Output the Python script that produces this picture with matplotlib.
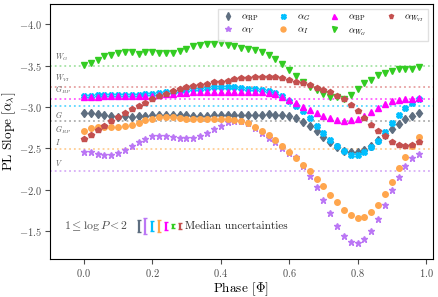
import numpy as np
import matplotlib
matplotlib.use("Agg")
import matplotlib.pyplot as plt

plt.rcParams['font.family'] = 'serif'
plt.rcParams['font.serif'] = ['cmr10', 'DejaVu Serif']
plt.rcParams['mathtext.fontset'] = 'cm'
plt.rcParams['axes.formatter.use_mathtext'] = True

# phase grid
phase = np.round(np.arange(50) * 0.02, 2)

a_rp = [-2.92, -2.92, -2.91, -2.90, -2.885, -2.875, -2.885, -2.88, -2.885, -2.89,
        -2.90, -2.905, -2.905, -2.905, -2.905, -2.90, -2.895, -2.89, -2.89, -2.90,
        -2.90, -2.90, -2.90, -2.90, -2.905, -2.905, -2.905, -2.91, -2.905, -2.90,
        -2.885, -2.86, -2.82, -2.77, -2.71, -2.64, -2.57, -2.51, -2.47, -2.46,
        -2.46, -2.48, -2.53, -2.60, -2.66, -2.73, -2.79, -2.85, -2.89, -2.92]
a_v = [-2.454, -2.45, -2.43, -2.42, -2.42, -2.44, -2.473, -2.522, -2.57, -2.615,
       -2.643, -2.651, -2.651, -2.635, -2.623, -2.623, -2.623, -2.643, -2.683, -2.732,
       -2.772, -2.812, -2.831, -2.83, -2.80, -2.75, -2.69, -2.62, -2.57, -2.50,
       -2.44, -2.39, -2.29, -2.17, -2.03, -1.87, -1.72, -1.56, -1.44, -1.37,
       -1.35, -1.40, -1.50, -1.64, -1.81, -1.99, -2.15, -2.29, -2.38, -2.43]
a_g = [-3.13, -3.135, -3.14, -3.14, -3.14, -3.14, -3.14, -3.14, -3.145, -3.15,
       -3.155, -3.165, -3.175, -3.185, -3.195, -3.205, -3.215, -3.22, -3.23, -3.235,
       -3.24, -3.24, -3.235, -3.23, -3.22, -3.21, -3.20, -3.19, -3.17, -3.13,
       -3.07, -3.01, -2.95, -2.87, -2.77, -2.68, -2.60, -2.53, -2.47, -2.42,
       -2.42, -2.46, -2.51, -2.59, -2.70, -2.80, -2.90, -2.99, -3.05, -3.09]
a_i = [-2.703, -2.743, -2.755, -2.751, -2.751, -2.751, -2.763, -2.783, -2.803, -2.843,
       -2.856, -2.872, -2.876, -2.872, -2.862, -2.856, -2.856, -2.856, -2.856, -2.856,
       -2.856, -2.856, -2.845, -2.83, -2.80, -2.76, -2.71, -2.66, -2.60, -2.53,
       -2.45, -2.38, -2.30, -2.22, -2.128, -2.047, -1.94, -1.846, -1.757, -1.697,
       -1.657, -1.669, -1.725, -1.817, -1.95, -2.097, -2.261, -2.40, -2.53, -2.635]
a_bp = [-3.12, -3.125, -3.125, -3.13, -3.13, -3.13, -3.13, -3.13, -3.13, -3.13,
        -3.135, -3.14, -3.15, -3.155, -3.165, -3.17, -3.175, -3.18, -3.185, -3.185,
        -3.185, -3.185, -3.185, -3.185, -3.185, -3.185, -3.175, -3.165, -3.155, -3.12,
        -3.085, -3.05, -3.00, -2.965, -2.925, -2.895, -2.865, -2.845, -2.835, -2.84,
        -2.855, -2.89, -2.94, -2.99, -3.03, -3.065, -3.085, -3.095, -3.10, -3.11]
a_wg = [-3.508, -3.536, -3.569, -3.609, -3.629, -3.65, -3.665, -3.669, -3.638, -3.665,
        -3.661, -3.657, -3.657, -3.657, -3.678, -3.698, -3.73, -3.746, -3.762, -3.762,
        -3.77, -3.746, -3.73, -3.71, -3.698, -3.682, -3.662, -3.625, -3.581, -3.517,
        -3.448, -3.376, -3.30, -3.245, -3.198, -3.158, -3.118, -3.114, -3.098, -3.146,
        -3.218, -3.287, -3.327, -3.388, -3.408, -3.436, -3.456, -3.46, -3.46, -3.484]
a_wvi = [-2.611, -2.663, -2.715, -2.772, -2.824, -2.872, -2.925, -2.973, -3.013, -3.046,
         -3.094, -3.126, -3.158, -3.186, -3.215, -3.235, -3.255, -3.267, -3.279, -3.295,
         -3.303, -3.315, -3.331, -3.343, -3.355, -3.36, -3.367, -3.367, -3.36, -3.343,
         -3.323, -3.303, -3.291, -3.263, -3.231, -3.207, -3.175, -3.134, -3.094, -3.017,
         -2.949, -2.865, -2.78, -2.703, -2.643, -2.578, -2.538, -2.53, -2.538, -2.57]

# mean PL slopes (horizontal reference lines)
ref_names = [r'$W_G$', r'$W_{VI}$', r'$G_{BP}$', r'$G$', r'$G_{RP}$', r'$I$', r'$V$']
ref_values = [-3.50, -3.245, -3.10, -3.005, -2.825, -2.49, -2.23]
ref_above = [True, True, True, False, False, True, True]

# median uncertainties (half-length)
med_err = [0.07, 0.10, 0.06, 0.072, 0.044, 0.028, 0.04]

c_rp, c_v, c_g, c_i = '#5e6e80', '#bb77f5', '#00bfff', '#ffa64d'
c_bp, c_wg, c_wvi = '#ff00ff', '#33cc22', '#c4504f'
ref_colors = ['#8fdc8f', '#e08a8a', '#ff33ff', '#33ccff', '#9a9a9a', '#ffc27a', '#cc99f5']

fig, ax = plt.subplots(figsize=(4.39, 2.97), dpi=100)
fig.subplots_adjust(left=0.113, right=0.986, top=0.987, bottom=0.127)

for v, col in zip(ref_values, ref_colors):
    ax.axhline(v, color=col, ls=':', lw=1.3, alpha=0.8, zorder=1)
for name, v, up in zip(ref_names, ref_values, ref_above):
    ax.text(-0.085, v - 0.03 if up else v + 0.03, name, fontsize=5.5, color='0.35',
            va='bottom' if up else 'top', ha='left')

ms = 4
ax.plot(phase, a_rp, 'd', color=c_rp, ms=ms + 0.5, label=r'$\alpha_{\rm RP}$', zorder=3)
ax.plot(phase, a_v, '*', color=c_v, ms=ms + 0.5, label=r'$\alpha_V$', zorder=3)
ax.plot(phase, a_g, 'X', color=c_g, ms=ms, label=r'$\alpha_G$', zorder=3)
ax.plot(phase, a_i, 'o', color=c_i, ms=ms, label=r'$\alpha_I$', zorder=3)
ax.plot(phase, a_bp, '^', color=c_bp, ms=ms, label=r'$\alpha_{\rm BP}$', zorder=3)
ax.plot(phase, a_wg, 'v', color=c_wg, ms=ms, label=r'$\alpha_{W_G}$', zorder=3)
ax.plot(phase, a_wvi, 'p', color=c_wvi, ms=ms, label=r'$\alpha_{W_{VI}}$', zorder=3)

# median uncertainty bars
err_x = [0.16, 0.18, 0.20, 0.22, 0.24, 0.26, 0.28]
err_cols = [c_rp, c_v, c_g, c_i, c_bp, c_wg, c_wvi]
for x, e, col in zip(err_x, med_err, err_cols):
    ax.errorbar(x, -1.56, yerr=e, color=col, lw=1.6, capsize=1.5, capthick=1)
ax.text(0.13, -1.56, r'$1 \leq \log P < 2$', fontsize=8.5, color='0.3', ha='right', va='center')
ax.text(0.295, -1.56, 'Median uncertainties', fontsize=8, color='0.15', ha='left', va='center')

ax.set_xlim(-0.1, 1.02)
ax.set_ylim(-1.158, -4.245)
ax.set_xticks([0.0, 0.2, 0.4, 0.6, 0.8, 1.0])
ax.set_yticks([-4.0, -3.5, -3.0, -2.5, -2.0, -1.5])
ax.tick_params(labelsize=7.5, colors='0.3', labelcolor='0.3', pad=2)
ax.set_xlabel(r'Phase [$\Phi$]', fontsize=9.5, labelpad=1)
ax.set_ylabel(r'PL Slope [$\alpha_\lambda$]', fontsize=9.5, labelpad=0.5)

ax.legend(loc='upper right', ncol=4, fontsize=7, frameon=True, edgecolor='0.85',
          handlelength=1.2, handletextpad=0.8, columnspacing=1.9, borderpad=0.4,
          labelspacing=0.25, fancybox=False, markerscale=0.9)

fig.savefig('out.png', dpi=100)
